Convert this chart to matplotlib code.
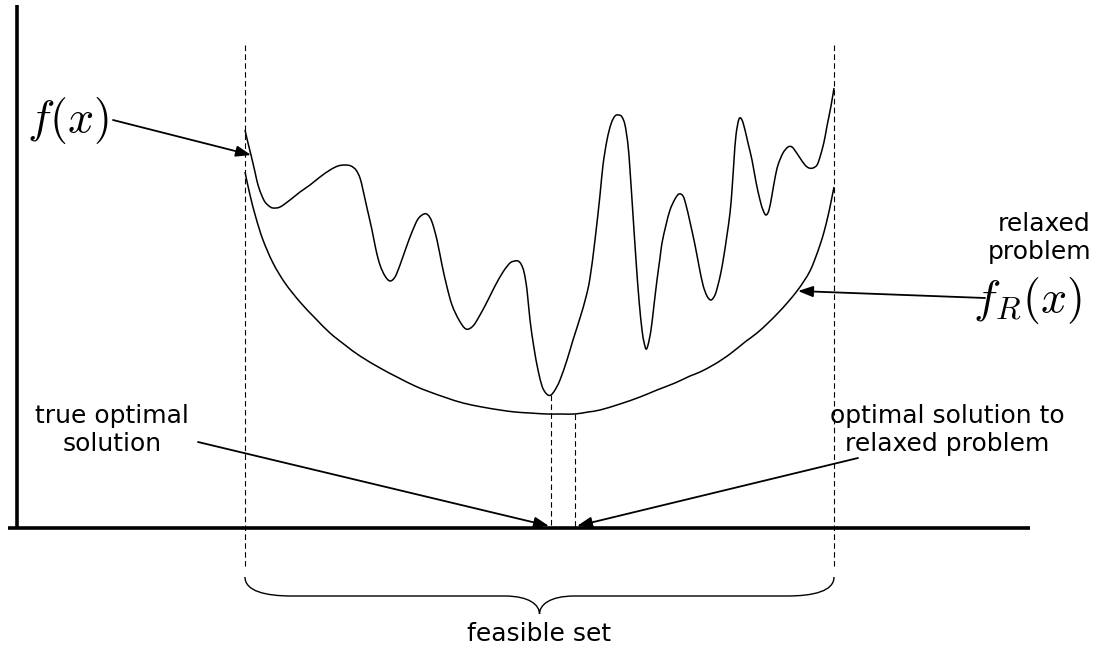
import matplotlib
matplotlib.use("Agg")
import matplotlib.pyplot as plt
import numpy as np
from matplotlib.path import Path
from matplotlib.patches import PathPatch, FancyArrowPatch

plt.rcParams['mathtext.fontset'] = 'cm'

# ---- data (in picture units: x right, y down) ----
f_x = [245, 248, 251, 255, 258, 262, 265, 269, 273, 280, 290, 300, 310, 320, 330, 338, 345, 351, 356, 360,
       363, 367, 372, 376, 380, 385, 390, 395, 400, 406, 412, 418, 424, 428, 432, 437, 442, 447, 452, 459,
       466, 473, 480, 488, 495, 503, 510, 515, 518, 521, 524, 527, 530, 534, 538, 542, 545, 548, 551, 555,
       560, 567, 573, 580, 586, 590, 595, 600, 603, 607, 611, 615, 619, 622, 625, 628, 630, 633, 636, 639,
       642, 644, 646, 648, 651, 654, 657, 660, 662, 666, 670, 675, 679, 683, 686, 690, 695, 699, 703, 707,
       711, 715, 718, 721, 724, 727, 730, 732, 734, 736, 739, 742, 745, 748, 752, 756, 760, 763, 766, 769,
       772, 775, 778, 783, 788, 792, 796, 800, 805, 809, 813, 817, 820, 824, 827, 831, 834]
f_y = [130, 143, 155, 172, 185, 196, 202, 206, 208, 207, 200, 192, 185, 177, 170, 166, 165, 166, 170, 178,
       190, 208, 230, 250, 265, 276, 281, 277, 265, 248, 232, 219, 214, 215, 222, 240, 265, 287, 305, 320,
       329, 326, 315, 300, 286, 272, 263, 261, 261, 264, 272, 290, 320, 348, 370, 386, 392, 395, 395, 390,
       380, 360, 340, 318, 297, 278, 240, 195, 165, 140, 124, 116, 115, 117, 125, 145, 170, 215, 260, 300,
       330, 342, 349, 345, 330, 305, 280, 258, 243, 225, 210, 199, 194, 196, 205, 222, 245, 266, 285, 296,
       300, 295, 285, 272, 255, 235, 213, 190, 160, 135, 119, 120, 130, 143, 160, 182, 200, 210, 215, 210,
       195, 178, 165, 153, 147, 147, 152, 158, 165, 168, 168, 165, 157, 142, 126, 106, 88]

fr_x = [245, 250, 256, 263, 273, 285, 300, 315, 330, 345, 360, 380, 397, 415, 430, 447, 463, 482, 500, 515,
        530, 547, 561, 575, 588, 600, 620, 640, 657, 675, 690, 700, 715, 730, 745, 757, 768, 778, 788, 797,
        804, 810, 815, 820, 824, 828, 831, 834]
fr_y = [172, 195, 218, 240, 263, 283, 302, 318, 333, 345, 356, 368, 377, 386, 392, 398, 403, 407, 410, 412,
        413, 414, 414, 414, 412, 410, 404, 397, 390, 383, 376, 372, 364, 354, 342, 333, 323, 313, 302, 291,
        281, 271, 259, 245, 232, 216, 202, 187]

feasible = [245, 834]          # feasible set bounds
x_true_opt = 551               # true optimum
x_relax_opt = 575              # relaxed optimum
y_true_opt = 395
y_relax_opt = 414

fig = plt.figure(figsize=(10.98, 6.52), dpi=100)
ax = fig.add_axes([0, 0, 1, 1])
ax.set_xlim(0, 1098)
ax.set_ylim(652, 0)
ax.axis('off')


def smooth_path(xs, ys):
    """Bezier path passing through the given points (Catmull-Rom tangents)."""
    p = np.column_stack([xs, ys]).astype(float)
    verts = [p[0]]
    codes = [Path.MOVETO]
    n = len(p)
    for i in range(n - 1):
        p0 = p[i - 1] if i > 0 else p[i]
        p1, p2 = p[i], p[i + 1]
        p3 = p[i + 2] if i + 2 < n else p[i + 1]
        verts += [p1 + (p2 - p0) / 6.0, p2 - (p3 - p1) / 6.0, p2]
        codes += [Path.CURVE4] * 3
    return Path(verts, codes)


# axes of the sketch
ax.plot([17, 17], [5, 529], color='black', lw=2.6, solid_capstyle='butt')
ax.plot([8, 1030], [528, 528], color='black', lw=2.6, solid_capstyle='butt')

# curves
ax.add_patch(PathPatch(smooth_path(f_x, f_y), fill=False, lw=1.1, color='black'))
ax.add_patch(PathPatch(smooth_path(fr_x, fr_y), fill=False, lw=1.1, color='black'))

dash = dict(color='black', lw=0.8, linestyle=(0, (5, 3)))
for xb in feasible:
    ax.plot([xb, xb], [45, 568], **dash)
ax.plot([x_true_opt, x_true_opt], [y_true_opt, 528], **dash)
ax.plot([x_relax_opt, x_relax_opt], [y_relax_opt, 528], **dash)

# brace under feasible set
xl, xr = feasible
xm = (xl + xr) / 2
verts = [(xl, 577), (xl, 591), (265, 596), (292, 596), (xm - 35, 596),
         (xm - 10, 596), (xm, 605), (xm, 614),
         (xm, 605), (xm + 10, 596), (xm + 35, 596),
         (xr - 47, 596), (xr - 20, 596), (xr, 591), (xr, 577)]
codes = [Path.MOVETO, Path.CURVE4, Path.CURVE4, Path.CURVE4, Path.LINETO,
         Path.CURVE4, Path.CURVE4, Path.CURVE4,
         Path.CURVE4, Path.CURVE4, Path.CURVE4,
         Path.LINETO, Path.CURVE4, Path.CURVE4, Path.CURVE4]
ax.add_patch(PathPatch(Path(verts, codes), fill=False, lw=1.0, color='black'))

# arrows
def arrow(p0, p1):
    ax.add_patch(FancyArrowPatch(p0, p1, arrowstyle='-|>,head_length=0.6,head_width=0.22',
                                 mutation_scale=15, lw=1.3, color='black',
                                 shrinkA=0, shrinkB=0))

arrow((113, 120), (251, 155))
arrow((985, 298), (798, 291))
arrow((198, 442), (549, 526))
arrow((858, 458), (577, 526))

# text
ax.text(68, 120, r'$f(x)$', fontsize=33, ha='center', va='center')
ax.text(1027, 300, r'$f_R(x)$', fontsize=33, ha='center', va='center')
tfont = dict(fontsize=18, family='DejaVu Sans', color='black')
ax.text(1091, 238, 'relaxed\nproblem', ha='right', va='center', linespacing=1.25, **tfont)
ax.text(112, 430, 'true optimal\nsolution', ha='center', va='center', linespacing=1.25, **tfont)
ax.text(947, 430, 'optimal solution to\nrelaxed problem', ha='center', va='center', linespacing=1.25, **tfont)
ax.text(xm, 634, 'feasible set', ha='center', va='center', **tfont)

fig.savefig('out.png', dpi=100)
